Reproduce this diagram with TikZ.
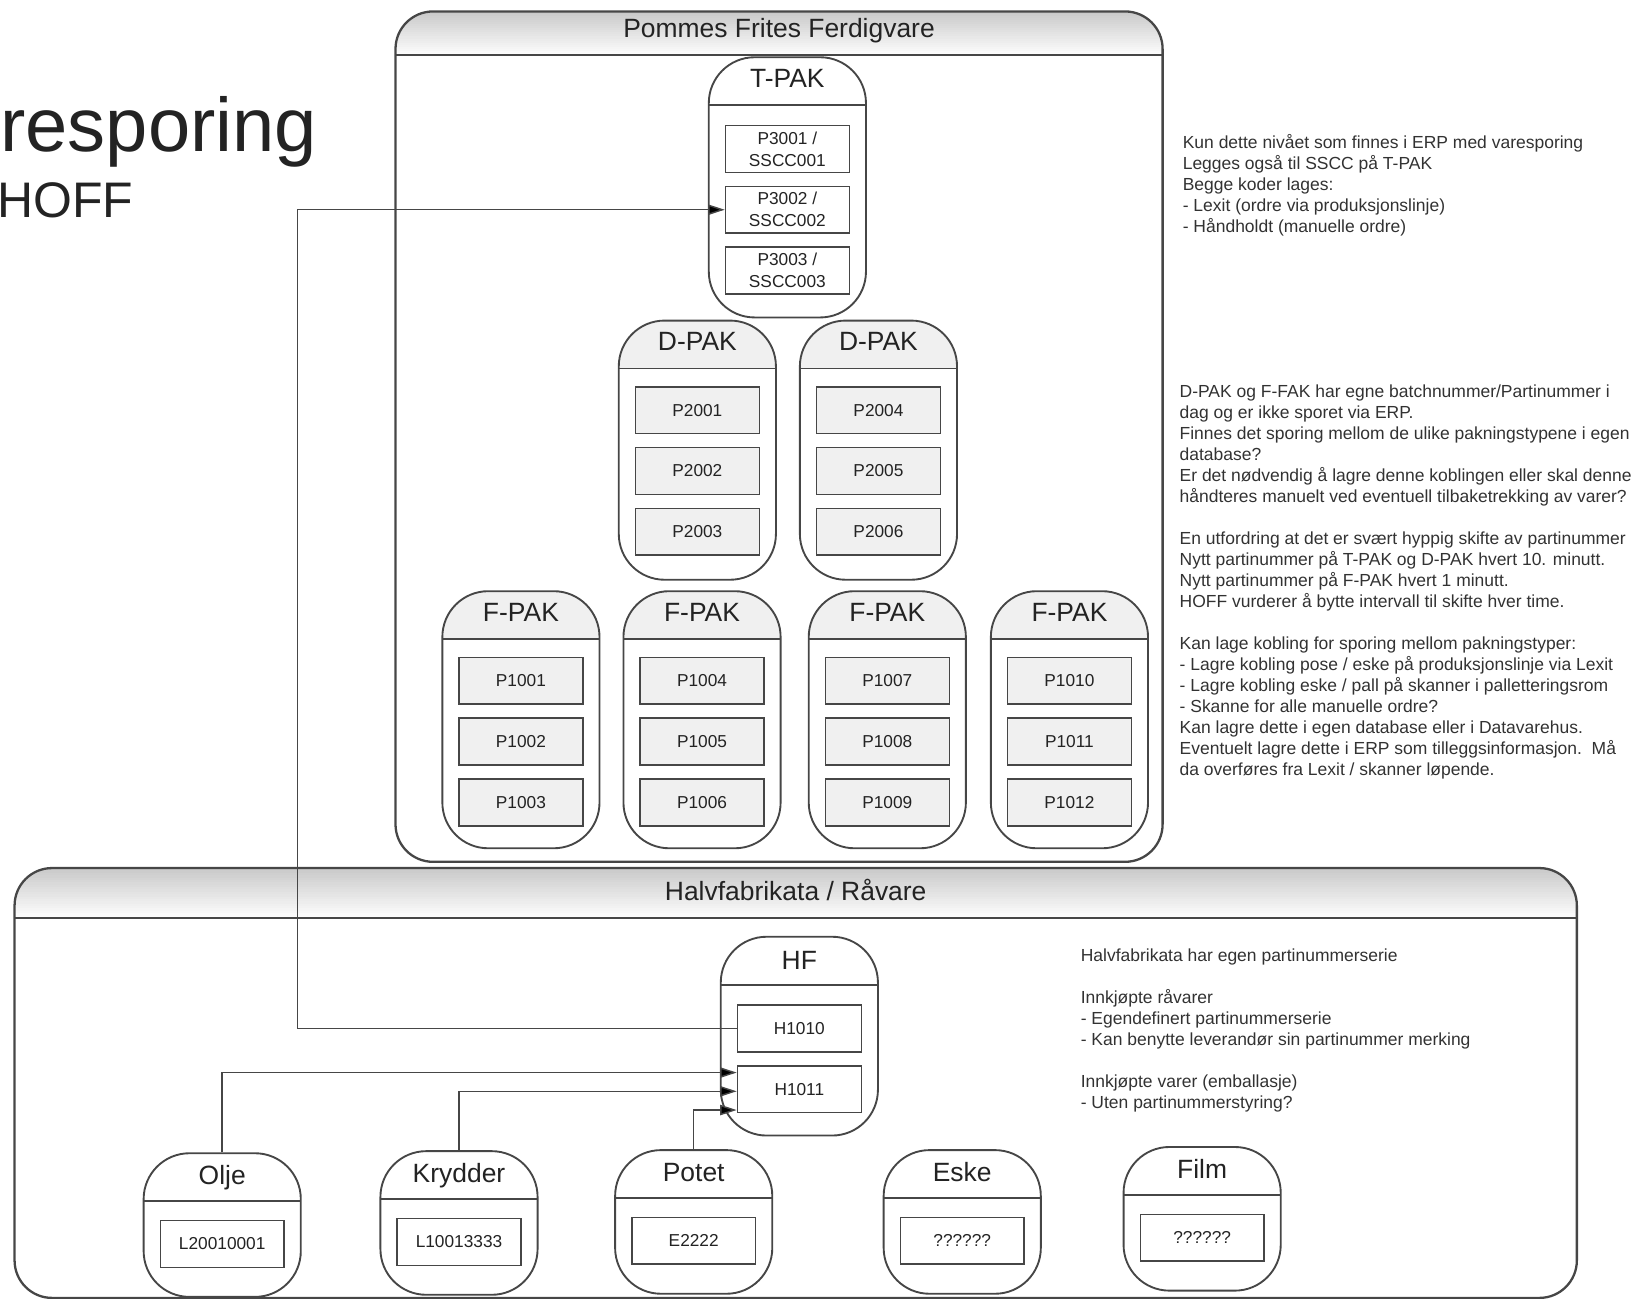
\documentclass[tikz,border=0pt]{standalone}
\usepackage{fontspec}
\setmainfont{Liberation Sans}
\usepackage{tikz}
\usetikzlibrary{arrows.meta,positioning}
\definecolor{linegray}{RGB}{70,70,70}
\definecolor{textgray}{RGB}{35,35,35}
\definecolor{notegray}{RGB}{50,50,50}
\definecolor{headgray}{RGB}{240,240,240}
\tikzset{
  area/.style={draw=linegray, line width=1.1pt, rounded corners=18pt, inner sep=0pt,
    path picture={
      \foreach \k in {0,...,20}
        \fill[sharp corners, gray!\the\numexpr 42-2*\k\relax]
          ([yshift={-\k*#1/21}]path picture bounding box.north west) rectangle
          ([yshift={-(\k+1.2)*#1/21}]path picture bounding box.north east);
      \draw[sharp corners, linegray, line width=1.1pt]
        ([yshift=-#1]path picture bounding box.north west) -- ([yshift=-#1]path picture bounding box.north east);}},
  pak/.style={draw=linegray, line width=0.9pt, rounded corners=22pt, inner sep=0pt,
    minimum width=75.5pt,
    path picture={
      \fill[sharp corners, #1]
        (path picture bounding box.north west) rectangle ([yshift=-23pt]path picture bounding box.north east);
      \draw[sharp corners, linegray, line width=0.9pt]
        ([yshift=-23pt]path picture bounding box.north west) -- ([yshift=-23pt]path picture bounding box.north east);}},
  pak/.default=white
}
\tikzstyle{paktitle}=[font=\fontsize{12.7}{15}\selectfont, text=textgray, anchor=base, inner sep=0pt]
\tikzstyle{cell}=[draw=linegray, line width=0.7pt, fill=white, minimum width=59.5pt, minimum height=22.5pt, inner sep=0pt, font=\fontsize{8.3}{10.5}\selectfont, text=textgray, align=center]
\tikzstyle{graycell}=[cell, fill=headgray]
\tikzstyle{note}=[anchor=north west, align=left, inner sep=0pt, font=\fontsize{8.4}{10.1}\selectfont, text=notegray]
\tikzstyle{link}=[draw=linegray, line width=0.7pt, -{Triangle[length=8pt,width=5pt,fill=black]}]

\begin{document}
\begin{tikzpicture}[x=0.5pt, y=-0.5pt]
\useasboundingbox (0,0) rectangle (1568,1248);
%
  \node[anchor=base west, inner sep=0pt, font=\fontsize{36.5}{40}\selectfont, text=textgray] (title) at (0,146) {resporing};
  \node[anchor=base west, inner sep=0pt, font=\fontsize{24}{28}\selectfont, text=textgray] (subtitle) at (-3,209) {HOFF};
%
  \node[area=21pt, minimum width=368.5pt, minimum height=408.5pt] (pff) at (748.5,419.5) {};
  \node[paktitle] (pfftitle) at ([yshift=-13pt]pff.north) {Pommes Frites Ferdigvare};
  \node[area=24pt, minimum width=750.5pt, minimum height=206.5pt] (hfr) at (764.5,1040.5) {};
  \node[paktitle] (hfrtitle) at ([yshift=-16pt]hfr.north) {Halvfabrikata / Råvare};
%
  \node[pak, minimum height=125pt] (tpak) at (756.5,180) {};
  \node[paktitle] (tpaktitle) at ([yshift=-15pt]tpak.north) {T-PAK};
  \node[cell] (p3001) at ([yshift=-44.5pt]tpak.north) {P3001 /\\SSCC001};
  \node[cell, below=6pt of p3001] (p3002) {P3002 /\\SSCC002};
  \node[cell, below=6pt of p3002] (p3003) {P3003 /\\SSCC003};
%
  \node[pak=headgray, minimum height=124.5pt] (dpak1) at (670,432.5) {};
  \node[paktitle] (dpak1title) at ([yshift=-15pt]dpak1.north) {D-PAK};
  \node[graycell] (p2001) at ([yshift=-43.5pt]dpak1.north) {P2001};
  \node[graycell, below=6pt of p2001] (p2002) {P2002};
  \node[graycell, below=6pt of p2002] (p2003) {P2003};
  \node[pak=headgray, minimum height=124.5pt] (dpak2) at (844,432.5) {};
  \node[paktitle] (dpak2title) at ([yshift=-15pt]dpak2.north) {D-PAK};
  \node[graycell] (p2004) at ([yshift=-43.5pt]dpak2.north) {P2004};
  \node[graycell, below=6pt of p2004] (p2005) {P2005};
  \node[graycell, below=6pt of p2005] (p2006) {P2006};
%
  \node[pak=headgray, minimum height=123.5pt] (fpak1) at (500.5,691.5) {};
  \node[paktitle] (fpak1title) at ([yshift=-15pt]fpak1.north) {F-PAK};
  \node[graycell] (p1001) at ([yshift=-43.5pt]fpak1.north) {P1001};
  \node[graycell, below=6pt of p1001] (p1002) {P1002};
  \node[graycell, below=6pt of p1002] (p1003) {P1003};
  \node[pak=headgray, minimum height=123.5pt] (fpak2) at (674.5,691.5) {};
  \node[paktitle] (fpak2title) at ([yshift=-15pt]fpak2.north) {F-PAK};
  \node[graycell] (p1004) at ([yshift=-43.5pt]fpak2.north) {P1004};
  \node[graycell, below=6pt of p1004] (p1005) {P1005};
  \node[graycell, below=6pt of p1005] (p1006) {P1006};
  \node[pak=headgray, minimum height=123.5pt] (fpak3) at (852.5,691.5) {};
  \node[paktitle] (fpak3title) at ([yshift=-15pt]fpak3.north) {F-PAK};
  \node[graycell] (p1007) at ([yshift=-43.5pt]fpak3.north) {P1007};
  \node[graycell, below=6pt of p1007] (p1008) {P1008};
  \node[graycell, below=6pt of p1008] (p1009) {P1009};
  \node[pak=headgray, minimum height=123.5pt] (fpak4) at (1027.5,691.5) {};
  \node[paktitle] (fpak4title) at ([yshift=-15pt]fpak4.north) {F-PAK};
  \node[graycell] (p1010) at ([yshift=-43.5pt]fpak4.north) {P1010};
  \node[graycell, below=6pt of p1010] (p1011) {P1011};
  \node[graycell, below=6pt of p1011] (p1012) {P1012};
%
  \node[pak, minimum height=95.5pt] (hf) at (768,995.5) {};
  \node[paktitle] (hftitle) at ([yshift=-16pt]hf.north) {HF};
  \node[cell] (h1010) at ([yshift=-44.5pt]hf.north) {H1010};
  \node[cell, below=6pt of h1010] (h1011) {H1011};
%
  \node[pak, minimum height=69pt] (olje) at (213.5,1177) {};
  \node[paktitle] (oljetitle) at ([yshift=-15.5pt]olje.north) {Olje};
  \node[cell] (l2001) at ([yshift=-44pt]olje.north) {L20010001};
  \node[pak, minimum height=69pt] (krydder) at (441,1175) {};
  \node[paktitle] (kryddertitle) at ([yshift=-15.5pt]krydder.north) {Krydder};
  \node[cell] (l1001) at ([yshift=-44pt]krydder.north) {L10013333};
  \node[pak, minimum height=69pt] (potet) at (666.5,1174) {};
  \node[paktitle] (potettitle) at ([yshift=-15.5pt]potet.north) {Potet};
  \node[cell] (e2222) at ([yshift=-44pt]potet.north) {E2222};
  \node[pak, minimum height=69pt] (eske) at (924.5,1174) {};
  \node[paktitle] (esketitle) at ([yshift=-15.5pt]eske.north) {Eske};
  \node[cell] (eskeno) at ([yshift=-44pt]eske.north) {??????};
  \node[pak, minimum height=69pt] (film) at (1155,1171) {};
  \node[paktitle] (filmtitle) at ([yshift=-15.5pt]film.north) {Film};
  \node[cell] (filmno) at ([yshift=-44pt]film.north) {??????};
%
  \node[note] (note1) at (1136,129) {Kun dette nivået som finnes i ERP med varesporing\\
    Legges også til SSCC på T-PAK\\
    Begge koder lages:\\
    - Lexit (ordre via produksjonslinje)\\
    - Håndholdt (manuelle ordre)};
  \node[note] (note2) at (1133,369) {D-PAK og F-FAK har egne batchnummer/Partinummer i\\
    dag og er ikke sporet via ERP.\\
    Finnes det sporing mellom de ulike pakningstypene i egen\\
    database?\\
    Er det nødvendig å lagre denne koblingen eller skal denne\\
    håndteres manuelt ved eventuell tilbaketrekking av varer?\\[10.1pt]
    En utfordring at det er svært hyppig skifte av partinummer\\
    Nytt partinummer på T-PAK og D-PAK hvert 10. minutt.\\
    Nytt partinummer på F-PAK hvert 1 minutt.\\
    HOFF vurderer å bytte intervall til skifte hver time.\\[10.1pt]
    Kan lage kobling for sporing mellom pakningstyper:\\
    - Lagre kobling pose / eske på produksjonslinje via Lexit\\
    - Lagre kobling eske / pall på skanner i palletteringsrom\\
    - Skanne for alle manuelle ordre?\\
    Kan lagre dette i egen database eller i Datavarehus.\\
    Eventuelt lagre dette i ERP som tilleggsinformasjon.\ \ Må\\
    da overføres fra Lexit / skanner løpende.};
  \node[note] (note3) at (1038,911) {Halvfabrikata har egen partinummerserie\\[10.1pt]
    Innkjøpte råvarer\\
    - Egendefinert partinummerserie\\
    - Kan benytte leverandør sin partinummer merking\\[10.1pt]
    Innkjøpte varer (emballasje)\\
    - Uten partinummerstyring?};
%
  \draw[link] (h1010.west) -- ++(-211pt,0) |- (p3002.west);
  \draw[link] (olje.north) |- ([yshift=8pt]h1011.west);
  \draw[link] (krydder.north) |- ([yshift=-1pt]h1011.west);
  \draw[link] (potet.north) |- ([yshift=-10pt]h1011.west);
%
\end{tikzpicture}
\end{document}
